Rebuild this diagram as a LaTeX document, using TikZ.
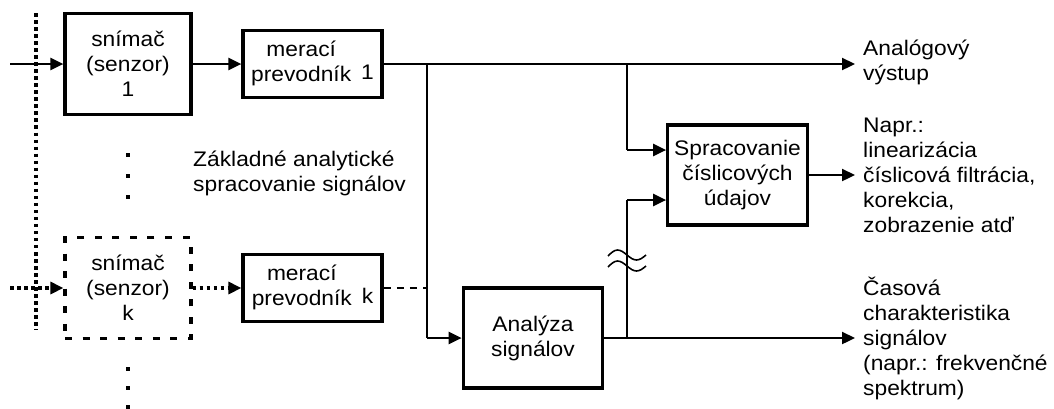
\documentclass[tikz,border=0pt]{standalone}
\usepackage{fontspec}
\setmainfont{Liberation Sans}[FakeStretch=1.08]
\usetikzlibrary{arrows.meta}

\begin{document}
\begin{tikzpicture}[>={Triangle[length=7.4pt,width=6.8pt]}, line width=1.4pt, nodes = {align = center},
  font=\fontsize{12}{14.2}\selectfont]

  \tikzstyle{sensor}=[draw, rectangle, line width=1.8pt, minimum height=2.02cm, minimum width=2.52cm, inner sep=0pt]
  \tikzstyle{conv}=[draw, rectangle, line width=1.8pt, minimum height=1.33cm, minimum width=2.78cm, inner sep=0pt]
  \tikzstyle{proc}=[draw, rectangle, line width=1.8pt, minimum height=2.0cm, minimum width=2.79cm, inner sep=0pt]
  \tikzstyle{note}=[anchor=base west, align=left, inner sep=0pt]
  \tikzstyle{tap}=[line width=0.9pt]
  \tikzstyle{dots}=[line width=1.8pt, dash pattern=on 2pt off 2pt]
  \tikzstyle{dashes}=[line width=1.5pt, dash pattern=on 4pt off 3.5pt]

  \useasboundingbox (0,0) rectangle (21.08,-8.16);

  % Sensors
  \node[sensor] (sn1) at (2.56,-1.28) {snímač\\(senzor)\\1};
  \node[sensor, dash pattern=on 4pt off 6pt] (snk) at (2.56,-5.76) {snímač\\(senzor)\\k};

  % Converters
  \node[conv] (mp1) at (6.25,-1.28) {\begin{tabular}{@{}c@{\hspace{0.2cm}}c@{}}merací & \\ prevodník & \raisebox{1pt}{1}\end{tabular}};
  \node[conv] (mpk) at (6.25,-5.76) {\begin{tabular}{@{}c@{\hspace{0.2cm}}c@{}}merací & \\ prevodník & \raisebox{1pt}{k}\end{tabular}};

  % Processing
  \node[proc] (ana) at (10.66,-6.76) {Analýza\\signálov};
  \node[proc] (spr) at (14.75,-3.50) {Spracovanie\\číslicových\\údajov};

  % Texts (base = last line)
  \node[note] (base) at (3.84,-3.82) {Základné analytické\\spracovanie signálov};
  \node[note] (out1) at (17.24,-1.60) {Analógový\\výstup};
  \node[note] (out2) at (17.24,-4.64) {Napr.:\\linearizácia\\číslicová filtrácia,\\korekcia,\\zobrazenie atď};
  \node[note] (out3) at (17.24,-7.90) {Časová\\charakteristika\\signálov\\(napr.: frekvenčné\\spektrum)};

  % Free ends and branch points
  \coordinate (in1) at (0.2,-1.28);
  \coordinate (ink) at (0.2,-5.76);
  \coordinate (j1) at (8.54,-1.28);
  \coordinate (jk) at (8.54,-5.76);
  \coordinate (k1) at (8.54,-6.76);
  \coordinate (j2) at (12.54,-1.28);
  \coordinate (k2) at (12.54,-3.0);
  \coordinate (j3) at (12.54,-6.76);
  \coordinate (brk) at (12.54,-5.32);
  \coordinate (k3) at (12.54,-4.0);
  \coordinate (a1) at (17.1,-1.28);
  \coordinate (a2) at (17.1,-3.50);
  \coordinate (a3) at (17.1,-6.76);

  % Channel bus and dots between channels
  \draw[dots] (0.72,-0.26) -- (0.72,-6.6);
  \foreach \y in {3.10,3.52,3.94,7.38,7.76,8.14}
    \fill[shift={(2.56,-\y)}] (-0.045,-0.045) rectangle (0.045,0.045);

  % Channel 1
  \draw[->] (in1) -- (sn1);
  \draw[->] (sn1) -- (mp1);
  \draw[->] (mp1) -- (a1);

  % Channel k
  \draw[dots, ->] (ink) -- (snk);
  \draw[dots, ->] (snk) -- (mpk);
  \draw[dashes] (mpk) -- (jk);

  % Analysis branch
  \draw[tap] (j1) -- (k1);
  \draw[->] (k1) -- (ana);
  \draw[->] (ana) -- (a3);

  % Digital processing
  \draw[tap] (j2) -- (k2);
  \draw[->] (k2) -- (k2 -| spr.west);
  \draw (j3) -- (brk);
  \draw[tap] (brk) -- (k3);
  \draw[->] (k3) -- (k3 -| spr.west);
  \draw[->] (spr) -- (a2);

  % Break mark
  \draw[tap] (12.16,-5.12) sin (12.35,-5.0) cos (12.54,-5.1) sin (12.73,-5.2) cos (12.92,-5.1);
  \draw[tap] (12.16,-5.34) sin (12.35,-5.22) cos (12.54,-5.32) sin (12.73,-5.42) cos (12.92,-5.32);

\end{tikzpicture}
\end{document}
